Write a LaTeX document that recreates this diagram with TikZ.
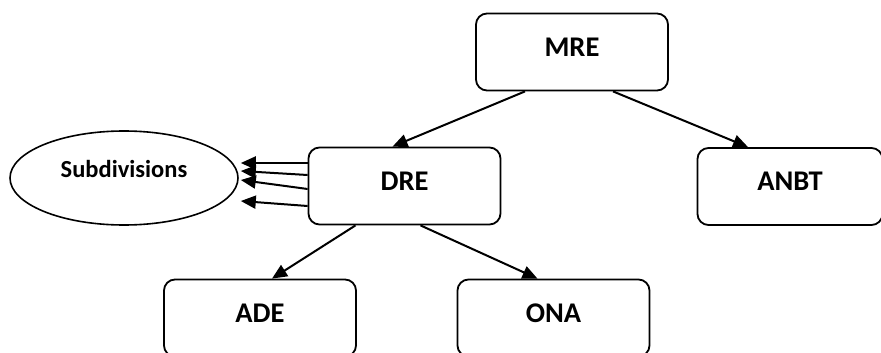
\documentclass[tikz,border=0pt]{standalone}
\usepackage{fontspec}
\setmainfont{Carlito}
\usetikzlibrary{arrows.meta,calc,shapes.geometric}
\begin{document}
\begin{tikzpicture}[x=1pt,y=-1pt,
  box/.style={draw,line width=1.8pt,rounded corners=11pt,minimum width=192pt,minimum height=77pt,
    inner sep=0pt,font=\fontsize{28.5}{30}\bfseries\selectfont,text depth=10pt},
  arr/.style={line width=2pt,-{Triangle[length=15pt,width=13pt]}}]
\clip (0,0) rectangle (881,353);
\fill[white] (0,0) rectangle (881,353);
\node[box] (mre) at (572,52) {MRE};
\node[box] (dre) at (404.5,186) {DRE};
\node[box,minimum width=185pt] (anbt) at (790,186.5) {ANBT};
\node[box] (ade) at (260,318) {ADE};
\node[box] (ona) at (553.5,318) {ONA};
\node[draw,ellipse,line width=1.6pt,minimum width=228pt,minimum height=94pt,inner sep=0pt,
  font=\fontsize{24.5}{26}\bfseries\selectfont,text depth=18pt] (sub) at (124,178) {Subdivisions};
\draw[arr] ($(mre.south)+(-47,0)$) -- ($(dre.north)+(-12,0)$);
\draw[arr] ($(mre.south)+(41,0)$) -- ($(anbt.north)+(-42,0)$);
\draw[arr] ($(dre.south)+(-49,0)$) -- ($(ade.north)+(12,0)$);
\draw[arr] ($(dre.south)+(16,0)$) -- ($(ona.north)+(-16,0)$);
\draw[arr] ($(dre.west)+(0,-23)$) -- ($(sub.east)+(2,-15)$);
\draw[arr] ($(dre.west)+(0,-11)$) -- ($(sub.east)+(2,-7)$);
\draw[arr] ($(dre.west)+(0,3)$) -- ($(sub.east)+(2,2)$);
\draw[arr] ($(dre.west)+(0,20)$) -- ($(sub.east)+(2,23)$);
\end{tikzpicture}
\end{document}
